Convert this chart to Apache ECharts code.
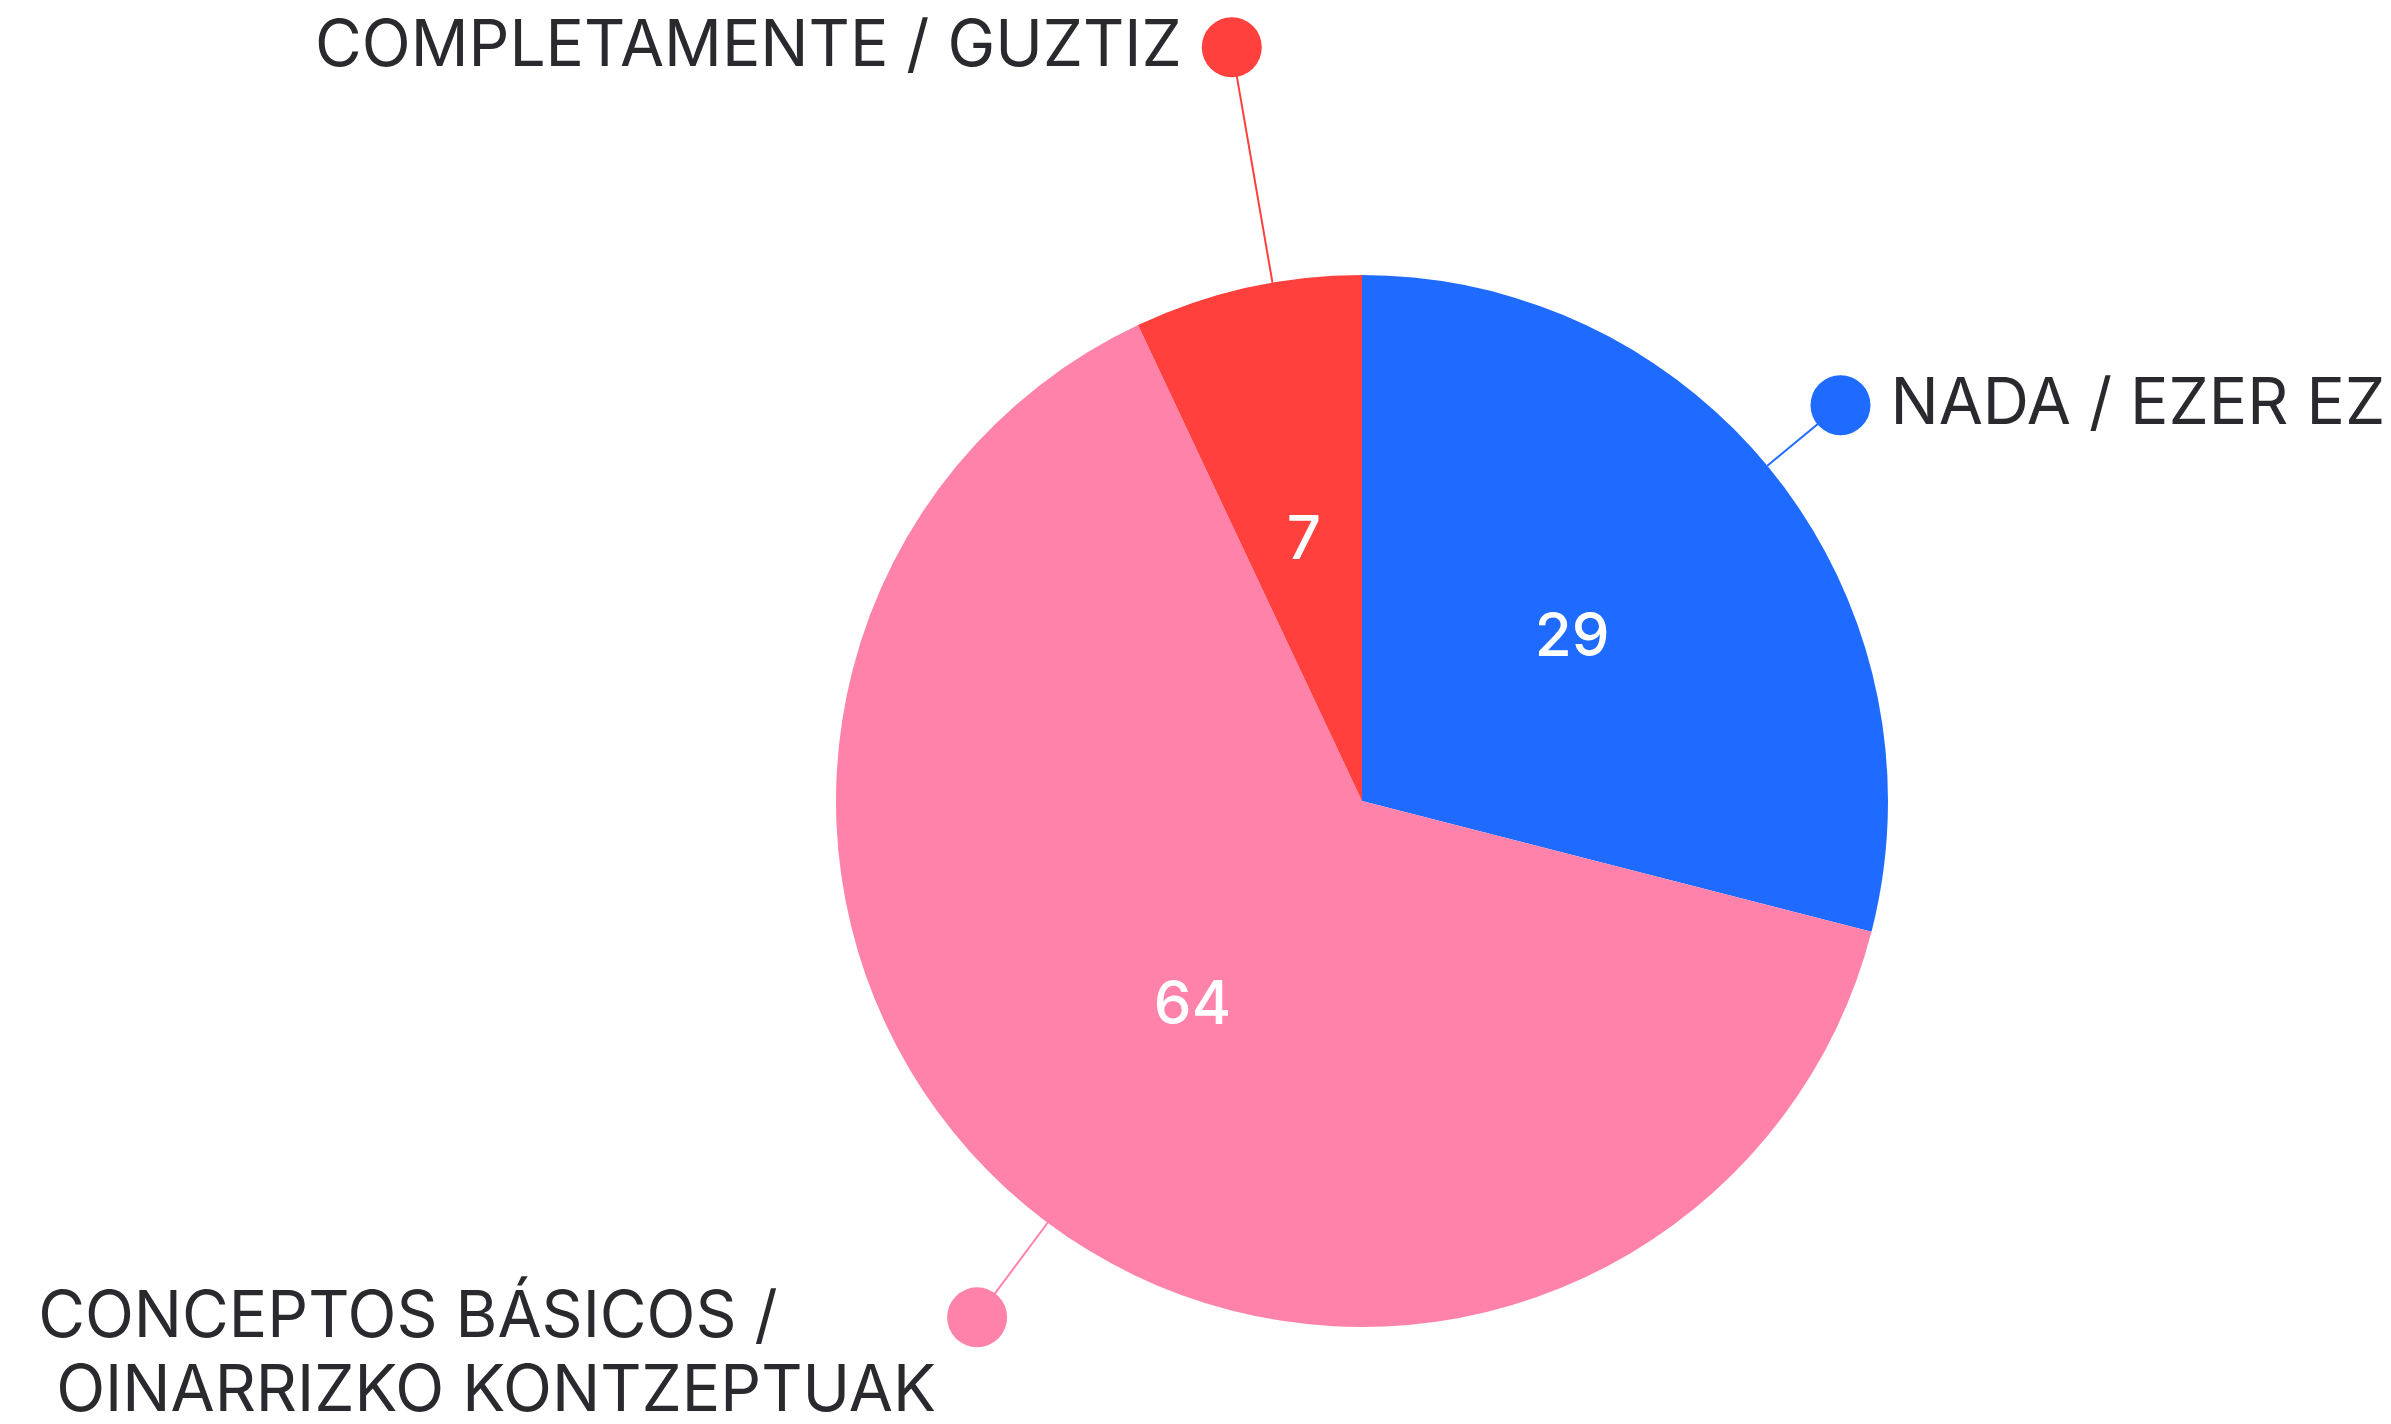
<!DOCTYPE html>
<html>
<head>
<meta charset="utf-8">
<script src="https://cdn.jsdelivr.net/npm/echarts@6/dist/echarts.min.js"></script>
<style>
  html, body { margin: 0; padding: 0; background: #ffffff; }
  #main { width: 2391px; height: 1424px; }
</style>
</head>
<body>
<div id="main"></div>
<script>
// datos
const categories = ['NADA / EZER EZ', 'CONCEPTOS BÁSICOS /\n OINARRIZKO KONTZEPTUAK', 'COMPLETAMENTE / GUZTIZ']
const values = [29, 64, 7]
const colors = ['#1f6bff', '#ff82aa', '#ff403d']

const chart = echarts.init(document.getElementById('main'))

const textColor = '#2a2a2e'
const fontFamily = 'Inter, "Noto Sans", sans-serif'
const center = [1362, 801]
const radius = 526
// longitud de la guía y giro de cada etiqueta externa
const lineLengths = [95, 118, 239]
const labelStart = [91.8, 92.9, 87.2]
const dotSize = 60

function richFor (color) {
  const base = { fontFamily: fontFamily, fontSize: 64, color: textColor, lineHeight: 74 }
  return {
    txt: base,
    l1: Object.assign({}, base, { width: 909, align: 'left' }),
    pad: Object.assign({}, base),
    gap: { width: 20, height: 10 },
    sp: { width: dotSize, height: 10, align: 'right' },
    dot: { width: dotSize, height: dotSize, borderRadius: dotSize / 2, backgroundColor: color, align: 'right' }
  }
}

function labelText (name, i) {
  if (name.indexOf('\n') >= 0) {
    const parts = name.split('\n')
    return '{pad| }\n{l1|' + parts[0] + '}{dot|}\n{l1|' + parts[1] + '}{sp|}'
  }
  // lado derecho: el punto va delante
  if (i === 0) return '{dot|}{gap|}{txt|' + name + '}'
  return '{txt|' + name + '}{gap|}{dot|}'
}

const pieData = categories.map((name, i) => ({
  name: name,
  value: values[i],
  itemStyle: { color: colors[i] }
}))

// una serie invisible por etiqueta externa
const labelSeries = categories.map((_, k) => ({
  type: 'pie',
  center: center,
  radius: radius,
  startAngle: labelStart[k],
  clockwise: true,
  silent: true,
  avoidLabelOverlap: false,
  label: {
    show: true,
    position: 'outside',
    distanceToLabelLine: -dotSize / 2
  },
  labelLine: { show: true, length2: 0 },
  data: categories.map((name, i) => ({
    name: name,
    value: values[i],
    itemStyle: { color: 'rgba(0,0,0,0)' },
    label: i === k
      ? { show: true, formatter: labelText(name, i), rich: richFor(colors[i]) }
      : { show: false },
    labelLine: i === k
      ? { show: true, length: lineLengths[i], length2: 0, lineStyle: { color: colors[i], width: 2 } }
      : { show: false }
  }))
}))

const option = {
  backgroundColor: '#ffffff',
  animation: false,
  series: [
    {
      type: 'pie',
      center: center,
      radius: radius,
      startAngle: 90,
      clockwise: true,
      silent: true,
      avoidLabelOverlap: false,
      label: {
        show: true,
        position: 'inside',
        formatter: '{c}',
        color: '#ffffff',
        fontFamily: fontFamily,
        fontWeight: 500,
        fontSize: 60
      },
      labelLine: { show: false },
      data: pieData
    }
  ].concat(labelSeries)
}

chart.setOption(option)
</script>
</body>
</html>
